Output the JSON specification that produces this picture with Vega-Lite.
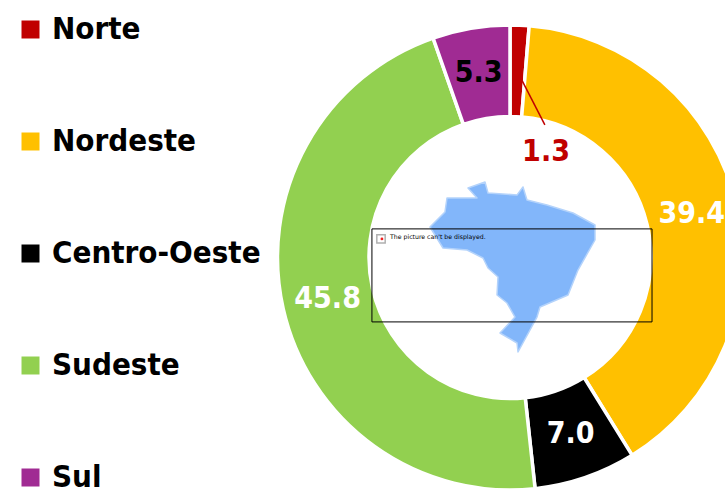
{
"$schema":"https://vega.github.io/schema/vega-lite/v6.json",
"width":430,"height":467,
"autosize":{"type":"none"},
"padding":{"left":295,"top":24,"right":0,"bottom":0},
"background":"white",
"view":{"stroke":null},
"datasets":{
"regions":[
{"region":"Norte","value":1.3,"order":1,"label":""},
{"region":"Nordeste","value":39.4,"order":2,"label":"39.4"},
{"region":"Centro-Oeste","value":7.0,"order":3,"label":"7.0"},
{"region":"Sudeste","value":45.8,"order":4,"label":"45.8"},
{"region":"Sul","value":5.3,"order":5,"label":"5.3"}
],
"brasil":[{"type":"Feature","properties":{"name":"Brasil"},"geometry":{"type":"Polygon","coordinates":[[[-73.85,-5.23],[-70.36,-1.74],[-69.89,1.52],[-62.9,1.52],[-65,3.85],[-61.04,5.25],[-60.34,2.69],[-53.58,2.22],[-52.19,4.09],[-51.26,1.06],[-46.6,-0.11],[-40.54,-1.97],[-35.42,-4.77],[-35.42,-8.26],[-39.38,-15.25],[-41.7,-21.07],[-48.23,-23.87],[-48.93,-26.2],[-53.35,-34.35],[-53.58,-32.25],[-57.54,-29.92],[-54.05,-26.2],[-55.91,-22.94],[-58.24,-21.07],[-58.01,-16.88],[-60.34,-14.78],[-61.5,-12.45],[-65.23,-10.59],[-70.82,-10.12],[-73.85,-5.23]]]}}]
},
"layer":[
{"data":{"name":"brasil"},
 "projection":{"type":"equirectangular","center":[-54.4,-14.2],"scale":246,"translate":[218.5,241.5]},
 "mark":{"type":"geoshape","fill":"#82B6FA","stroke":"#B4D3FB","strokeWidth":1.5,"strokeJoin":"round"}},
{"data":{"name":"regions"},
 "mark":{"type":"arc","radius":232.5,"radius2":141,"stroke":"white","strokeWidth":3.5},
 "encoding":{
  "theta":{"field":"value","type":"quantitative","stack":true},
  "order":{"field":"order","type":"ordinal"},
  "color":{"field":"region","type":"nominal",
   "scale":{"domain":["Norte","Nordeste","Centro-Oeste","Sudeste","Sul"],"range":["#C00000","#FFC000","#000000","#92D050","#A02B93"]},
   "sort":null,
   "legend":{"orient":"none","legendX":-280,"legendY":-10,"title":null,"symbolType":"square","symbolSize":324,"symbolStrokeWidth":0,"labelFont":"DejaVu Sans Condensed","labelFontWeight":"bold","labelFontSize":31,"labelColor":"black","rowPadding":80,"labelOffset":6,"labelLimit":260,"symbolOpacity":1}}
 }},
{"data":{"name":"regions"},
 "mark":{"type":"text","radius":187,"font":"DejaVu Sans Condensed","fontWeight":"bold","fontSize":30},
 "encoding":{
  "theta":{"field":"value","type":"quantitative","stack":true},
  "order":{"field":"order","type":"ordinal"},
  "text":{"field":"label"},
  "color":{"condition":{"test":"datum.region==='Sul'","value":"black"},"value":"white"}
 }},
{"data":{"values":[{"x":-0.596,"x2":0.609,"y":0.123,"y2":-0.277}]},
 "mark":{"type":"rect","fill":null,"stroke":"black","strokeWidth":1},
 "encoding":{
  "x":{"field":"x","type":"quantitative","scale":{"domain":[-0.927,0.923],"nice":false,"zero":false},"axis":null},
  "x2":{"field":"x2"},
  "y":{"field":"y","type":"quantitative","scale":{"domain":[-1.004,1.004],"nice":false,"zero":false},"axis":null},
  "y2":{"field":"y2"}
 }},
{"data":{"values":[{"x":-0.557,"y":0.08}]},
 "mark":{"type":"point","shape":"square","size":70,"filled":false,"stroke":"#909090","strokeWidth":1.5},
 "encoding":{"x":{"field":"x","type":"quantitative","scale":{"domain":[-0.927,0.923],"nice":false,"zero":false},"axis":null},"y":{"field":"y","type":"quantitative","scale":{"domain":[-1.004,1.004],"nice":false,"zero":false},"axis":null}}},
{"data":{"values":[{"x":-0.553,"y":0.08}]},
 "mark":{"type":"point","shape":"circle","size":8,"filled":true,"fill":"#F02020","opacity":1},
 "encoding":{"x":{"field":"x","type":"quantitative","scale":{"domain":[-0.927,0.923],"nice":false,"zero":false},"axis":null},"y":{"field":"y","type":"quantitative","scale":{"domain":[-1.004,1.004],"nice":false,"zero":false},"axis":null}}},
{"data":{"values":[{"x":-0.518,"y":0.086,"t":"The picture can't be displayed."}]},
 "mark":{"type":"text","align":"left","baseline":"middle","font":"DejaVu Sans","fontSize":6.2,"color":"black"},
 "encoding":{"x":{"field":"x","type":"quantitative","scale":{"domain":[-0.927,0.923],"nice":false,"zero":false},"axis":null},"y":{"field":"y","type":"quantitative","scale":{"domain":[-1.004,1.004],"nice":false,"zero":false},"axis":null},"text":{"field":"t"}}},
{"data":{"values":[{"x":0.049,"x2":0.148,"y":0.763,"y2":0.57}]},
 "mark":{"type":"rule","color":"#C00000","strokeWidth":1.5},
 "encoding":{"x":{"field":"x","type":"quantitative","scale":{"domain":[-0.927,0.923],"nice":false,"zero":false},"axis":null},"x2":{"field":"x2"},"y":{"field":"y","type":"quantitative","scale":{"domain":[-1.004,1.004],"nice":false,"zero":false},"axis":null},"y2":{"field":"y2"}}},
{"data":{"values":[{"x":0.153,"y":0.454,"t":"1.3"}]},
 "mark":{"type":"text","font":"DejaVu Sans Condensed","fontWeight":"bold","fontSize":30,"color":"#C00000"},
 "encoding":{"x":{"field":"x","type":"quantitative","scale":{"domain":[-0.927,0.923],"nice":false,"zero":false},"axis":null},"y":{"field":"y","type":"quantitative","scale":{"domain":[-1.004,1.004],"nice":false,"zero":false},"axis":null},"text":{"field":"t"}}}
]
}
